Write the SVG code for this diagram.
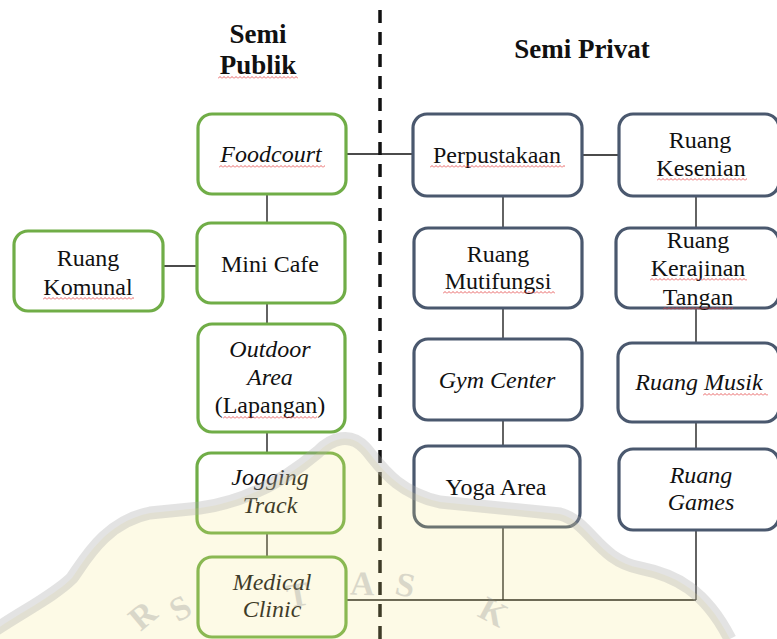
<svg xmlns="http://www.w3.org/2000/svg" width="777" height="639" viewBox="0 0 777 639">
<defs>
<pattern id="wv" width="4" height="3" patternUnits="userSpaceOnUse"><path d="M0 2.5 L2 0.5 L4 2.5" fill="none" stroke="#e23c3c" stroke-width="0.8"/></pattern>
<style>
text{font-family:"Liberation Serif","Times New Roman",serif;font-size:24px;fill:#111;text-anchor:middle}
.it{font-style:italic}
.hd{font-weight:bold;font-size:27px}
.gn{fill:#fff;stroke:#70ad47;stroke-width:3.2}
.bl{fill:#fff;stroke:#4a586e;stroke-width:3.2}
.cn{fill:none;stroke:#111;stroke-width:1.3}
.sq{fill:url(#wv)}
.wl{font-size:34px;fill:#8a8a8a;font-weight:bold}
</style>
</defs>
<rect width="777" height="639" fill="#fff"/>

<line x1="380" y1="10" x2="380" y2="639" stroke="#111" stroke-width="3.5" stroke-dasharray="13 9"/>

<g id="headers">
<text class="hd" x="258" y="43">Semi</text>
<text class="hd" x="258" y="74">Publik</text>
<rect class="sq" transform="translate(218 76)" width="80" height="3"/>
<text class="hd" x="582" y="58">Semi Privat</text>
</g>

<g id="connectors">
<path class="cn" d="M346 154H413M582 155H619M267 194V223M163 266H197M267 303V324M267 432V453M267 533V557M503 196V228M503 308V339M503 420V446M503 527V600M696 196V228M696 308V343M696 422V449M696 530V600M346 600H696"/>
</g>

<g id="foodcourt"><rect class="gn" x="198" y="114" width="148" height="80" rx="14"/><text class="it" x="271" y="162">Foodcourt</text><rect class="sq" transform="translate(219 165)" width="106" height="3"/></g>
<g id="minicafe"><rect class="gn" x="197" y="223" width="148" height="80" rx="14"/><text x="270" y="272">Mini Cafe</text></g>
<g id="komunal"><rect class="gn" x="14" y="231" width="149" height="80" rx="14"/><text x="88" y="266">Ruang</text><text x="88" y="295">Komunal</text><rect class="sq" transform="translate(43 297)" width="91" height="3"/></g>
<g id="outdoor"><rect class="gn" x="198" y="324" width="147" height="108" rx="14"/><text class="it" x="270" y="357">Outdoor</text><text class="it" x="270" y="385">Area</text><text x="270" y="413">(Lapangan)</text><rect class="sq" transform="translate(223 416)" width="94" height="3"/></g>
<g id="jogging"><rect class="gn" x="197" y="453" width="147" height="80" rx="14"/><text class="it" x="270" y="485">Jogging</text><text class="it" x="270" y="513">Track</text></g>
<g id="medical"><rect class="gn" x="198" y="557" width="148" height="80" rx="14"/><text class="it" x="272" y="590">Medical</text><text class="it" x="272" y="617">Clinic</text></g>

<g id="perpustakaan"><rect class="bl" x="413" y="114" width="169" height="82" rx="14"/><text x="497" y="163">Perpustakaan</text><rect class="sq" transform="translate(430 165)" width="135" height="3"/></g>
<g id="kesenian"><rect class="bl" x="619" y="114" width="160" height="82" rx="14"/><text x="700" y="148">Ruang</text><text x="701" y="176">Kesenian</text><rect class="sq" transform="translate(657 178)" width="90" height="3"/></g>
<g id="multifungsi"><rect class="bl" x="414" y="228" width="168" height="80" rx="14"/><text x="498" y="262">Ruang</text><text x="498" y="289">Mutifungsi</text><rect class="sq" transform="translate(443 291)" width="112" height="3"/></g>
<g id="kerajinan"><rect class="bl" x="616" y="228" width="163" height="80" rx="14"/><text x="698" y="248">Ruang</text><text x="698" y="276">Kerajinan</text><rect class="sq" transform="translate(650 278)" width="97" height="3"/><text x="698" y="305">Tangan</text><rect class="sq" transform="translate(663 307)" width="70" height="3"/></g>
<g id="gym"><rect class="bl" x="414" y="339" width="168" height="81" rx="14"/><text class="it" x="497" y="388">Gym Center</text></g>
<g id="musik"><rect class="bl" x="618" y="343" width="161" height="79" rx="14"/><text class="it" x="699" y="390">Ruang Musik</text><rect class="sq" transform="translate(703 393)" width="65" height="3"/></g>
<g id="yoga"><rect class="bl" x="414" y="446" width="166" height="81" rx="14"/><text x="496" y="495">Yoga Area</text></g>
<g id="games"><rect class="bl" x="619" y="449" width="160" height="81" rx="14"/><text class="it" x="701" y="483">Ruang</text><text class="it" x="701" y="510">Games</text></g>

<g id="watermark">
<path d="M-5 630 C25 610 55 595 72 578 C85 560 105 522 150 513 L200 508 C245 502 285 480 318 452 C332 438 350 432 365 448 C380 465 395 492 440 502 L560 514 C590 522 598 560 640 568 C675 575 705 590 730 639 L-5 639 Z" fill="#f5e680" opacity="0.2"/>
<path d="M-5 630 C25 610 55 595 72 578 C85 560 105 522 150 513 L200 508 C245 502 285 480 318 452 C332 438 350 432 365 448 C380 465 395 492 440 502 L560 514 C590 522 598 560 640 568 C675 575 705 590 730 639" fill="none" stroke="#a8a8a8" stroke-width="13" opacity="0.32"/>
<g opacity="0.3">
<text class="wl" transform="translate(150 624) rotate(-40)">R</text>
<text class="wl" transform="translate(186 618) rotate(-30)">S</text>
<text class="wl" transform="translate(300 606) rotate(-10)">T</text>
<text class="wl" transform="translate(362 595) rotate(2)">A</text>
<text class="wl" transform="translate(403 596) rotate(12)">S</text>
<text class="wl" transform="translate(488 622) rotate(28)">K</text>
</g>
</g>
</svg>
